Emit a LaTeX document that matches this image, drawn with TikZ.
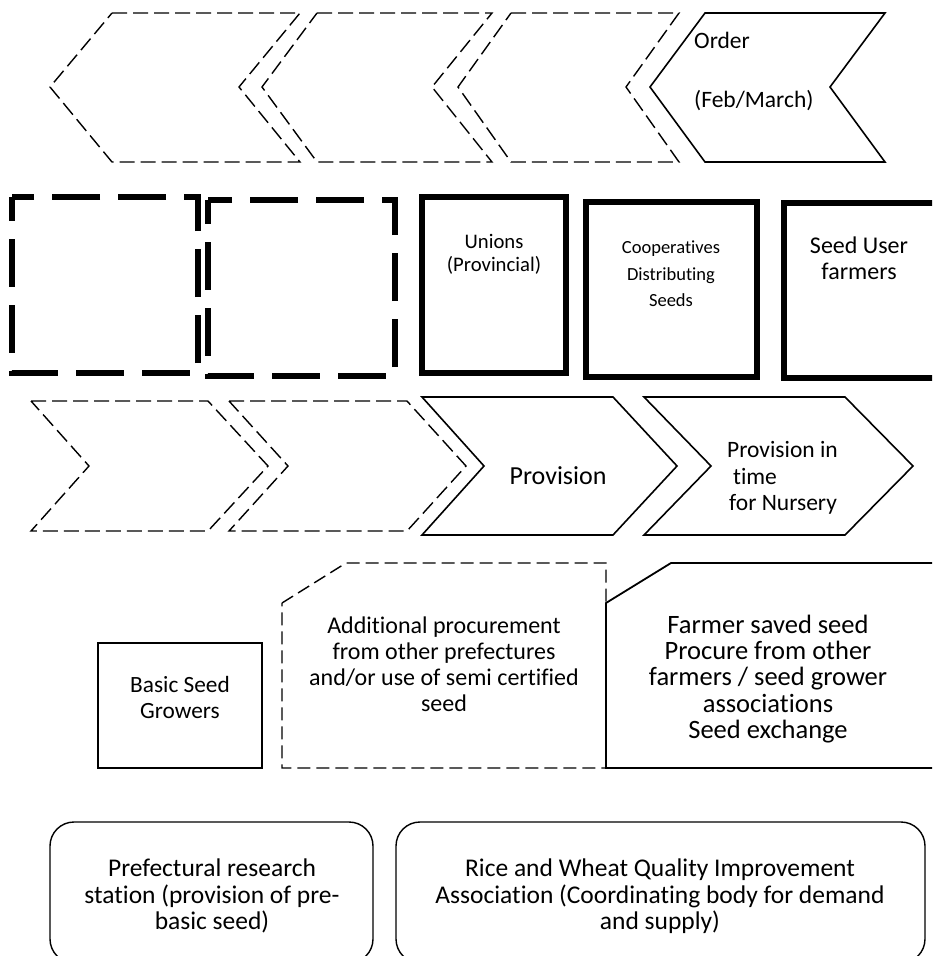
\documentclass[tikz,border=0pt]{standalone}
\usepackage{fontspec}
\setmainfont{Carlito}[Ligatures=NoCommon]
\begin{document}
\begin{tikzpicture}[x=1pt,y=-1pt,
  thindash/.style={draw, line width=1.4pt, dash pattern=on 15pt off 6pt},
  thickdash/.style={draw, line width=6pt, dash pattern=on 48pt off 18pt, dash phase=24pt},
  thickbox/.style={draw, line width=5.5pt},
  solidline/.style={draw, line width=1.6pt},
  lbl/.style={inner sep=0pt, anchor=base},
  lblw/.style={inner sep=0pt, anchor=base west}]
\path[use as bounding box] (0,0) rectangle (932,956);
\clip (0,0) rectangle (932,956);

% ---- top row: left-pointing chevrons
\path[thindash] (112,13)--(300,13)--(239,87)--(300,162)--(112,162)--(50,87)--cycle;
\path[thindash] (317,13)--(492,13)--(432,87)--(492,162)--(317,162)--(262,87)--cycle;
\path[thindash] (511,13)--(679,13)--(626,87)--(679,162)--(511,162)--(458,87)--cycle;
\path[solidline] (705,13)--(885,13)--(830,87)--(885,162)--(705,162)--(650,87)--cycle;
\node[lblw, font=\fontsize{23.5}{27}\selectfont] (order) at (694,48) {Order};
\node[lblw, font=\fontsize{23.5}{27}\selectfont] (feb) at (694,107) {(Feb/March)};

% ---- second row: boxes
\path[thickdash] (12,197) rectangle (198,373);
\path[thickdash] (208,200) rectangle (395,376);
\path[thickbox] (422,197) rectangle (566,373);
\path[thickbox] (586,202) rectangle (757,377);
\path[thickbox] (784,203) rectangle (960,378);
\node[lbl, font=\fontsize{20.7}{24}\selectfont] (un1) at (494,248) {Unions};
\node[lbl, font=\fontsize{20.7}{24}\selectfont] (un2) at (494,271) {(Provincial)};
\node[lbl, font=\fontsize{18.5}{22}\selectfont] (co1) at (671,253) {Cooperatives};
\node[lbl, font=\fontsize{18.5}{22}\selectfont] (co2) at (671,280) {Distributing};
\node[lbl, font=\fontsize{18.5}{22}\selectfont] (co3) at (671,306) {Seeds};
\node[lbl, font=\fontsize{24}{28}\selectfont] (su1) at (859,253) {Seed User};
\node[lbl, font=\fontsize{24}{28}\selectfont] (su2) at (859,279) {farmers};

% ---- third row: right-pointing chevrons
\path[thindash] (31,401)--(208,401)--(268,466)--(208,531)--(31,531)--(89,466)--cycle;
\path[thindash] (229,401)--(407,401)--(466,466)--(407,531)--(229,531)--(288,466)--cycle;
\path[solidline] (422,397)--(613,397)--(677,466)--(613,535)--(422,535)--(484,466)--cycle;
\path[solidline] (644,397)--(845,397)--(913,466)--(845,535)--(644,535)--(711,466)--cycle;
\node[lbl, font=\fontsize{26}{30}\selectfont] (prov) at (558,484) {Provision};
\node[lblw, font=\fontsize{23.5}{27}\selectfont] (pt1) at (727,457) {Provision in};
\node[lblw, font=\fontsize{23.5}{27}\selectfont] (pt2) at (733,484) {time};
\node[lblw, font=\fontsize{23.5}{27}\selectfont] (pt3) at (729,510) {for Nursery};

% ---- fourth row
\path[draw, line width=2pt] (98,643) rectangle (262,768);
\node[lbl, font=\fontsize{23.3}{26}\selectfont] (bs1) at (180,692) {Basic Seed};
\node[lbl, font=\fontsize{23.3}{26}\selectfont] (bs2) at (180,718) {Growers};
\path[draw, line width=1.4pt, dash pattern=on 13pt off 6pt] (282,603)--(346,563)--(606,563)--(606,768)--(282,768)--cycle;
\path[draw, line width=1.8pt] (950,563)--(671,563)--(606,603)--(606,768)--(950,768);
\node[lbl, font=\fontsize{24}{26}\selectfont] (ad1) at (444,633) {Additional procurement};
\node[lbl, font=\fontsize{24}{26}\selectfont] (ad2) at (444,659) {from other prefectures};
\node[lbl, font=\fontsize{24}{26}\selectfont] (ad3) at (444,685) {and/or use of semi certified};
\node[lbl, font=\fontsize{24}{26}\selectfont] (ad4) at (444,711) {seed};
\node[lbl, font=\fontsize{26.5}{26}\selectfont] (fs1) at (768,633) {Farmer saved seed};
\node[lbl, font=\fontsize{26.5}{26}\selectfont] (fs2) at (768,659) {Procure from other};
\node[lbl, font=\fontsize{26.5}{26}\selectfont] (fs3) at (768,685) {farmers / seed grower};
\node[lbl, font=\fontsize{26.5}{26}\selectfont] (fs4) at (768,712) {associations};
\node[lbl, font=\fontsize{26.5}{26}\selectfont] (fs5) at (768,738) {Seed exchange};

% ---- bottom row
\path[draw, line width=1.4pt, rounded corners=24pt] (50,822) rectangle (373,963);
\path[draw, line width=1.4pt, rounded corners=24pt] (396,822) rectangle (925,963);
\node[lbl, font=\fontsize{25.5}{27}\selectfont] (pr1) at (212,876) {Prefectural research};
\node[lbl, font=\fontsize{25.5}{27}\selectfont] (pr2) at (212,903) {station (provision of pre-};
\node[lbl, font=\fontsize{25.5}{27}\selectfont] (pr3) at (212,929) {basic seed)};
\node[lbl, font=\fontsize{25.5}{27}\selectfont] (rw1) at (660,876) {Rice and Wheat Quality Improvement};
\node[lbl, font=\fontsize{25.5}{27}\selectfont] (rw2) at (660,903) {Association (Coordinating body for demand};
\node[lbl, font=\fontsize{25.5}{27}\selectfont] (rw3) at (660,929) {and supply)};
\end{tikzpicture}
\end{document}
